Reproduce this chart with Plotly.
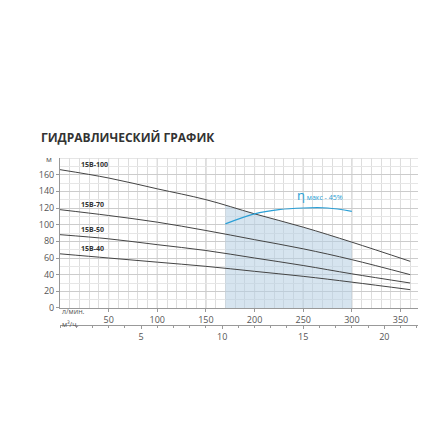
import plotly.graph_objects as go

x = [0, 50, 100, 150, 200, 250, 300, 360]
h100 = [166, 156, 143, 130, 113, 97, 79, 56]
h70 = [118, 111, 103, 93, 82, 71, 58, 40]
h50 = [88, 83, 76, 69, 60, 51, 41, 30]
h40 = [65, 60, 55, 50, 44, 38, 31, 22]
names = ["15B-100", "15B-70", "15B-50", "15B-40"]
eff_x = [170, 200, 225, 250, 275, 300]
eff_y = [101, 113, 118, 120, 120, 116]
shade_x = [170, 200, 250, 300]
shade_y = [123, 113, 97, 79]

fig = go.Figure()
fig.add_trace(go.Scatter(x=[shade_x[0]] + shade_x + [shade_x[-1]], y=[0] + shade_y + [0],
                         fill="toself", fillcolor="rgba(180,205,225,0.55)", line=dict(width=0),
                         mode="lines", hoverinfo="skip"))
for n, h in zip(names, [h100, h70, h50, h40]):
    fig.add_trace(go.Scatter(x=x, y=h, mode="lines", line=dict(color="#444", width=1, shape="spline")))
    fig.add_annotation(x=20, y=h[0] - 1, text="<b>" + n + "</b>", showarrow=False, xanchor="left",
                       yanchor="bottom", font=dict(size=7, color="#333"))
fig.add_trace(go.Scatter(x=eff_x, y=eff_y, mode="lines", line=dict(color="#2a9fd6", width=1.2, shape="spline")))
fig.add_annotation(x=242, y=122, text="<span style='font-size:13px'>η</span> макс - 45%", showarrow=False,
                   xanchor="left", yanchor="bottom", font=dict(size=7, color="#2a9fd6"))
fig.add_trace(go.Scatter(x=[0, 22], y=[None, None], xaxis="x2", showlegend=False))

fig.update_layout(
    width=440, height=440, showlegend=False, plot_bgcolor="white", paper_bgcolor="white",
    margin=dict(l=52, r=30, t=150, b=110, autoexpand=False),
    font=dict(family="Open Sans", color="#555", size=9),
    title=dict(text="<b>ГИДРАВЛИЧЕСКИЙ ГРАФИК</b>", x=0.075, y=0.715, xanchor="left",
               font=dict(size=12, color="#333")),
    xaxis=dict(range=[0, 368], tickvals=[50, 100, 150, 200, 250, 300, 350], showgrid=False,
               minor=dict(dtick=10, showgrid=True, gridcolor="#ddd", gridwidth=1),
               showline=True, linecolor="#999", ticks="outside", ticklen=3, tickcolor="#999",
               automargin=False),
    xaxis2=dict(range=[0, 368 * 0.06], overlaying="x", anchor="free", position=0.07, side="bottom",
                tickvals=[5, 10, 15, 20], showgrid=False, ticks="outside", ticklen=3, tickcolor="#999",
                showline=True, linecolor="#999", minor=dict(dtick=1, ticks="outside", ticklen=2),
                automargin=False),
    yaxis=dict(range=[0, 180], tickvals=[0, 20, 40, 60, 80, 100, 120, 140, 160], gridcolor="#ccc",
               minor=dict(dtick=10, showgrid=True, gridcolor="#e6e6e6"), domain=[0.1667, 1],
               showline=True, linecolor="#999", zeroline=False, ticks="outside", ticklen=3, tickcolor="#999",
               automargin=False),
)
for v in [50, 100, 150, 200, 250, 300, 350]:
    fig.add_shape(type="line", x0=v, x1=v, y0=0, y1=180, line=dict(color="#bbb", width=1), layer="below")
fig.add_shape(type="line", x0=0, x1=368, y0=180, y1=180, line=dict(color="#ccc", width=1), layer="below")
fig.add_annotation(x=0, y=1, xref="paper", yref="paper", text="м", showarrow=False,
                   xanchor="right", yanchor="middle", xshift=-6, font=dict(size=8))
fig.add_annotation(x=0, y=0.11, xref="paper", yref="paper", text="л/мин.", showarrow=False,
                   xanchor="left", font=dict(size=7))
fig.add_annotation(x=0, y=0.04, xref="paper", yref="paper", text="м³/ч.", showarrow=False,
                   xanchor="left", font=dict(size=7))
fig.write_html("out.html")
